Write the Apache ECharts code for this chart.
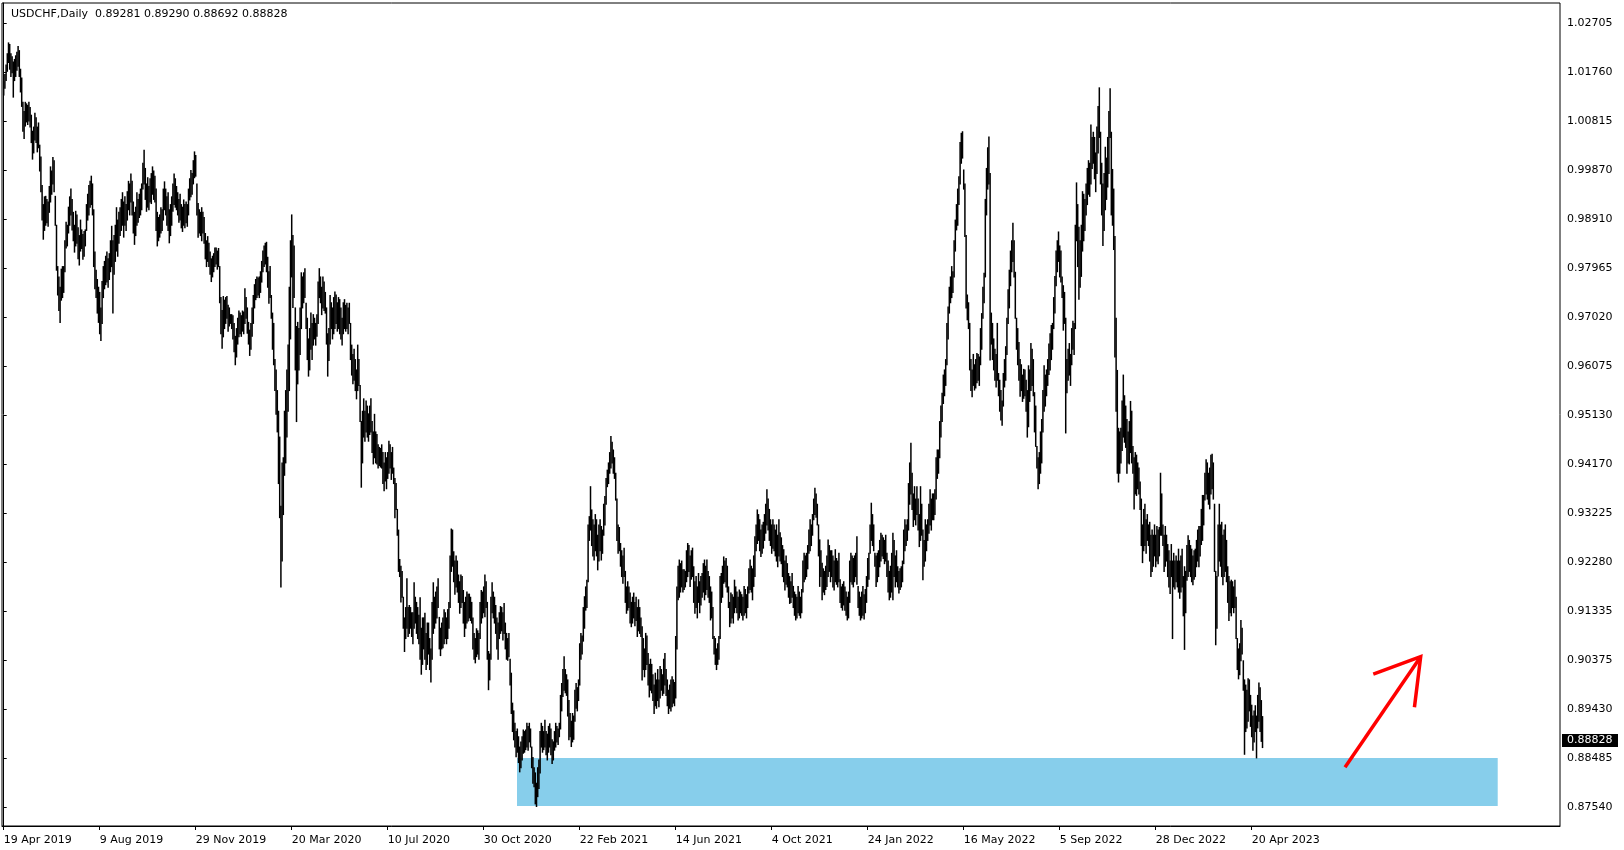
<!DOCTYPE html>
<html><head><meta charset="utf-8">
<script src="https://cdn.jsdelivr.net/npm/echarts@6/dist/echarts.min.js"></script>
<style>html,body{margin:0;padding:0;background:#fff}#c{width:1624px;height:850px}</style>
</head><body><div id="c"></div>
<script>
const symbolTitle = 'USDCHF,Daily';
const lastBar = [0.89281, 0.89290, 0.88692, 0.88828]; // O H L C
const xTickIndex = [0, 80, 160, 240, 320, 400, 480, 560, 640, 720, 800, 880, 960, 1040];
const xTickLabels = ['19 Apr 2019','9 Aug 2019','29 Nov 2019','20 Mar 2020','10 Jul 2020','30 Oct 2020','22 Feb 2021','14 Jun 2021','4 Oct 2021','24 Jan 2022','16 May 2022','5 Sep 2022','28 Dec 2022','20 Apr 2023'];
const yTicks = [1.02705,1.01760,1.00815,0.99870,0.98910,0.97965,0.97020,0.96075,0.95130,0.94170,0.93225,0.92280,0.91335,0.90375,0.89430,0.88485,0.87540];
const xMin = -1.42, xMax = 1296.9, yMin = 0.87172, yMax = 1.03102;
// support zone: bar index start/end, price high/low
const zoneStart = 427.75, zoneEnd = 1245, zoneHigh = 0.8849, zoneLow = 0.8756;
// arrow drawn in data space [bar index, price]
const arrowShaft = [[1117.75, 0.8831], [1180.8, 0.9045]];
const arrowHead = [[1141.3, 0.9011], [1180.8, 0.9045], [1175.6, 0.8947]];

const highs = [
1.0158,1.0172,1.0190,1.0212,1.0233, 1.0230,1.0212,1.0206,1.0196,1.0201,
1.0208,1.0215,1.0226,1.0218,1.0182, 1.0165,1.0118,1.0100,1.0118,1.0115,
1.0112,1.0118,1.0108,1.0093,1.0062, 1.0070,1.0097,1.0088,1.0070,1.0078,
1.0035,1.0012,0.9957,0.9920,0.9935, 0.9936,0.9930,0.9925,0.9955,0.9993,
0.9985,1.0011,1.0005,0.9936,0.9880, 0.9800,0.9780,0.9760,0.9795,0.9800,
0.9800,0.9850,0.9886,0.9880,0.9915, 0.9935,0.9950,0.9930,0.9905,0.9880,
0.9907,0.9900,0.9875,0.9860,0.9890, 0.9871,0.9862,0.9868,0.9871,0.9920,
0.9940,0.9957,0.9965,0.9975,0.9960, 0.9910,0.9828,0.9793,0.9775,0.9760,
0.9750,0.9720,0.9771,0.9800,0.9810, 0.9820,0.9828,0.9815,0.9825,0.9850,
0.9878,0.9850,0.9860,0.9880,0.9914, 0.9890,0.9905,0.9914,0.9930,0.9943,
0.9925,0.9935,0.9920,0.9945,0.9965, 0.9960,0.9979,0.9965,0.9925,0.9905,
0.9915,0.9943,0.9930,0.9940,0.9950, 0.9960,1.0000,1.0025,0.9990,0.9960,
0.9972,0.9955,0.9970,0.9980,0.9993, 0.9985,0.9975,0.9950,0.9905,0.9895,
0.9900,0.9914,0.9910,0.9950,0.9964, 0.9950,0.9935,0.9943,0.9910,0.9920,
0.9935,0.9960,0.9979,0.9970,0.9955, 0.9943,0.9930,0.9940,0.9920,0.9915,
0.9929,0.9920,0.9925,0.9920,0.9950, 0.9970,0.9986,0.9980,1.0005,1.0022,
1.0015,0.9960,0.9922,0.9910,0.9905, 0.9914,0.9905,0.9895,0.9864,0.9850,
0.9858,0.9845,0.9828,0.9815,0.9820, 0.9825,0.9836,0.9836,0.9830,0.9835,
0.9800,0.9740,0.9715,0.9742,0.9735, 0.9740,0.9742,0.9725,0.9720,0.9707,
0.9707,0.9705,0.9690,0.9665,0.9680, 0.9700,0.9714,0.9710,0.9705,0.9714,
0.9712,0.9757,0.9740,0.9720,0.9692, 0.9677,0.9690,0.9720,0.9744,0.9765,
0.9775,0.9780,0.9778,0.9780,0.9790, 0.9810,0.9830,0.9840,0.9845,0.9847,
0.9818,0.9790,0.9800,0.9744,0.9710, 0.9690,0.9620,0.9600,0.9560,0.9520,
0.9470,0.9336,0.9420,0.9430,0.9520, 0.9560,0.9600,0.9648,0.9760,0.9850,
0.9900,0.9860,0.9840,0.9720,0.9684, 0.9692,0.9680,0.9720,0.9788,0.9780,
0.9788,0.9796,0.9729,0.9700,0.9660, 0.9680,0.9710,0.9690,0.9707,0.9700,
0.9690,0.9707,0.9770,0.9796,0.9780, 0.9760,0.9780,0.9770,0.9750,0.9720,
0.9670,0.9680,0.9744,0.9730,0.9720, 0.9740,0.9751,0.9745,0.9730,0.9740,
0.9736,0.9720,0.9700,0.9730,0.9736, 0.9725,0.9729,0.9720,0.9729,0.9690,
0.9648,0.9630,0.9640,0.9620,0.9600, 0.9648,0.9620,0.9570,0.9500,0.9520,
0.9544,0.9520,0.9540,0.9530,0.9515, 0.9530,0.9544,0.9500,0.9480,0.9514,
0.9480,0.9475,0.9455,0.9450,0.9448, 0.9455,0.9440,0.9420,0.9440,0.9430,
0.9440,0.9462,0.9455,0.9440,0.9450, 0.9410,0.9390,0.9380,0.9330,0.9290,
0.9233,0.9220,0.9210,0.9160,0.9120, 0.9140,0.9196,0.9140,0.9144,0.9140,
0.9130,0.9130,0.9188,0.9160,0.9150, 0.9140,0.9125,0.9159,0.9100,0.9120,
0.9120,0.9129,0.9090,0.9110,0.9110, 0.9080,0.9060,0.9150,0.9188,0.9160,
0.9170,0.9180,0.9196,0.9121,0.9100, 0.9110,0.9120,0.9136,0.9130,0.9120,
0.9136,0.9150,0.9240,0.9292,0.9290, 0.9248,0.9230,0.9240,0.9230,0.9203,
0.9190,0.9203,0.9200,0.9173,0.9150, 0.9160,0.9170,0.9166,0.9166,0.9160,
0.9150,0.9120,0.9090,0.9080,0.9099, 0.9095,0.9090,0.9150,0.9173,0.9170,
0.9180,0.9203,0.9190,0.9150,0.9055, 0.9050,0.9160,0.9188,0.9170,0.9160,
0.9144,0.9120,0.9110,0.9130,0.9142, 0.9140,0.9130,0.9148,0.9110,0.9090,
0.9080,0.9090,0.9040,0.9013,0.8955, 0.8940,0.8916,0.8900,0.8905,0.8890,
0.8870,0.8880,0.8890,0.8903,0.8900, 0.8903,0.8916,0.8910,0.8916,0.8905,
0.8870,0.8850,0.8830,0.8820,0.8800, 0.8830,0.8845,0.8900,0.8916,0.8910,
0.8900,0.8922,0.8900,0.8895,0.8910, 0.8915,0.8905,0.8884,0.8880,0.8900,
0.8916,0.8910,0.8905,0.8916,0.8970, 0.8993,0.9020,0.9045,0.9020,0.9010,
0.9000,0.8960,0.8935,0.8920,0.8935, 0.8930,0.8980,0.8993,0.8985,0.9000,
0.9070,0.9090,0.9085,0.9140,0.9161, 0.9180,0.9193,0.9300,0.9316,0.9374,
0.9329,0.9310,0.9300,0.9320,0.9310, 0.9280,0.9300,0.9310,0.9297,0.9290,
0.9340,0.9355,0.9390,0.9406,0.9420, 0.9440,0.9471,0.9460,0.9445,0.9430,
0.9400,0.9350,0.9300,0.9295,0.9264, 0.9250,0.9240,0.9255,0.9210,0.9180,
0.9190,0.9180,0.9168,0.9150,0.9160, 0.9168,0.9150,0.9160,0.9140,0.9155,
0.9140,0.9120,0.9103,0.9080,0.9060, 0.9090,0.9085,0.9051,0.9030,0.9040,
0.9030,0.9010,0.8990,0.9013,0.9000, 0.9020,0.9000,0.9026,0.9020,0.9010,
0.9040,0.9051,0.9020,0.9000,0.8980, 0.8990,0.9000,0.9006,0.9000,0.8995,
0.9084,0.9180,0.9220,0.9232,0.9225, 0.9230,0.9213,0.9213,0.9210,0.9250,
0.9264,0.9260,0.9240,0.9250,0.9255, 0.9219,0.9190,0.9200,0.9180,0.9206,
0.9190,0.9200,0.9206,0.9225,0.9232, 0.9220,0.9232,0.9210,0.9200,0.9180,
0.9170,0.9140,0.9084,0.9080,0.9060, 0.9070,0.9084,0.9200,0.9206,0.9220,
0.9238,0.9230,0.9235,0.9220,0.9180, 0.9150,0.9168,0.9165,0.9160,0.9193,
0.9180,0.9170,0.9160,0.9174,0.9170, 0.9165,0.9160,0.9181,0.9175,0.9165,
0.9180,0.9215,0.9232,0.9220,0.9215, 0.9240,0.9277,0.9300,0.9329,0.9320,
0.9310,0.9290,0.9300,0.9305,0.9320, 0.9340,0.9368,0.9350,0.9330,0.9310,
0.9300,0.9310,0.9300,0.9290,0.9300, 0.9280,0.9310,0.9285,0.9275,0.9260,
0.9252,0.9230,0.9240,0.9225,0.9206, 0.9200,0.9190,0.9206,0.9181,0.9170,
0.9165,0.9160,0.9181,0.9170,0.9160, 0.9175,0.9230,0.9245,0.9240,0.9245,
0.9260,0.9290,0.9310,0.9300,0.9320, 0.9350,0.9371,0.9360,0.9340,0.9300,
0.9271,0.9250,0.9226,0.9215,0.9210, 0.9220,0.9240,0.9271,0.9260,0.9250,
0.9250,0.9240,0.9230,0.9252,0.9235, 0.9230,0.9245,0.9194,0.9180,0.9185,
0.9190,0.9180,0.9170,0.9160,0.9170, 0.9230,0.9245,0.9240,0.9235,0.9240,
0.9245,0.9277,0.9181,0.9170,0.9160, 0.9170,0.9181,0.9165,0.9175,0.9200,
0.9235,0.9245,0.9300,0.9342,0.9320, 0.9300,0.9245,0.9240,0.9245,0.9250,
0.9270,0.9284,0.9280,0.9275,0.9270, 0.9280,0.9245,0.9230,0.9210,0.9220,
0.9245,0.9284,0.9270,0.9240,0.9250, 0.9219,0.9210,0.9215,0.9219,0.9230,
0.9290,0.9310,0.9300,0.9310,0.9380, 0.9420,0.9458,0.9400,0.9360,0.9374,
0.9350,0.9374,0.9350,0.9320,0.9374, 0.9340,0.9290,0.9270,0.9310,0.9300,
0.9310,0.9340,0.9368,0.9350,0.9360, 0.9360,0.9368,0.9430,0.9445,0.9445,
0.9500,0.9530,0.9555,0.9590,0.9600, 0.9620,0.9690,0.9722,0.9760,0.9780,
0.9800,0.9790,0.9850,0.9890,0.9920, 0.9950,0.9974,1.0040,1.0058,1.0061,
0.9987,0.9960,0.9860,0.9745,0.9730, 0.9690,0.9620,0.9600,0.9630,0.9610,
0.9620,0.9632,0.9630,0.9625,0.9680, 0.9709,0.9760,0.9787,0.9930,0.9990,
1.0030,1.0051,0.9980,0.9710,0.9690, 0.9660,0.9640,0.9630,0.9690,0.9593,
0.9580,0.9560,0.9540,0.9593,0.9620, 0.9645,0.9700,0.9755,0.9793,0.9830,
0.9850,0.9884,0.9850,0.9789,0.9700, 0.9680,0.9653,0.9620,0.9610,0.9590,
0.9601,0.9600,0.9580,0.9560,0.9608, 0.9600,0.9651,0.9640,0.9620,0.9556,
0.9530,0.9452,0.9430,0.9440,0.9480, 0.9504,0.9560,0.9608,0.9590,0.9600,
0.9620,0.9650,0.9670,0.9686,0.9690, 0.9740,0.9781,0.9830,0.9850,0.9867,
0.9840,0.9830,0.9780,0.9763,0.9750, 0.9700,0.9620,0.9640,0.9651,0.9630,
0.9680,0.9694,0.9690,0.9880,0.9962, 0.9920,0.9876,0.9850,0.9880,0.9945,
0.9940,0.9930,0.9960,0.9990,1.0005, 1.0000,1.0074,1.0050,1.0060,1.0050,
1.0020,1.0070,1.0110,1.0146,1.0060, 1.0000,0.9960,0.9980,1.0031,1.0010,
1.0050,1.0100,1.0144,1.0060,0.9988, 0.9950,0.9858,0.9700,0.9599,0.9487,
0.9480,0.9487,0.9540,0.9590,0.9550, 0.9530,0.9504,0.9480,0.9500,0.9539,
0.9520,0.9452,0.9430,0.9440,0.9435, 0.9420,0.9410,0.9383,0.9350,0.9300,
0.9330,0.9340,0.9310,0.9320,0.9300, 0.9305,0.9280,0.9290,0.9280,0.9300,
0.9280,0.9297,0.9290,0.9295,0.9400, 0.9360,0.9300,0.9280,0.9297,0.9280,
0.9262,0.9250,0.9230,0.9262,0.9230, 0.9245,0.9230,0.9240,0.9230,0.9253,
0.9230,0.9240,0.9253,0.9200,0.9219, 0.9210,0.9260,0.9279,0.9270,0.9260,
0.9253,0.9240,0.9250,0.9253,0.9270, 0.9290,0.9297,0.9297,0.9330,0.9357,
0.9357,0.9400,0.9426,0.9420,0.9400, 0.9410,0.9435,0.9437,0.9420,0.9340,
0.9210,0.9200,0.9300,0.9340,0.9300, 0.9305,0.9280,0.9290,0.9300,0.9270,
0.9219,0.9200,0.9190,0.9193,0.9190, 0.9180,0.9193,0.9160,0.9080,0.9060,
0.9070,0.9115,0.9100,0.9037,0.9000, 0.8990,0.8980,0.9002,0.9000,0.8970,
0.8951,0.8930,0.8940,0.8950,0.8930, 0.8970,0.8994,0.8985,0.8960,0.8929
];
const lows = [
1.0132,1.0145,1.0160,1.0178,1.0195, 1.0182,1.0168,1.0175,1.0128,1.0160,
1.0168,1.0180,1.0188,1.0168,1.0138, 1.0110,1.0062,1.0048,1.0072,1.0080,
1.0075,1.0082,1.0070,1.0040,1.0008, 1.0020,1.0045,1.0040,1.0022,1.0030,
0.9985,0.9945,0.9890,0.9853,0.9870, 0.9880,0.9885,0.9878,0.9905,0.9925,
0.9940,0.9960,0.9945,0.9880,0.9793, 0.9745,0.9715,0.9692,0.9735,0.9740,
0.9750,0.9790,0.9836,0.9840,0.9865, 0.9880,0.9900,0.9871,0.9850,0.9828,
0.9840,0.9845,0.9815,0.9803,0.9830, 0.9835,0.9814,0.9820,0.9840,0.9870,
0.9890,0.9900,0.9915,0.9920,0.9900, 0.9800,0.9757,0.9740,0.9710,0.9692,
0.9670,0.9657,0.9690,0.9740,0.9757, 0.9765,0.9770,0.9760,0.9775,0.9790,
0.9800,0.9710,0.9785,0.9810,0.9830, 0.9820,0.9845,0.9860,0.9870,0.9880,
0.9857,0.9880,0.9870,0.9890,0.9910, 0.9900,0.9925,0.9900,0.9865,0.9843,
0.9860,0.9880,0.9886,0.9895,0.9900, 0.9910,0.9950,0.9960,0.9930,0.9907,
0.9915,0.9910,0.9925,0.9922,0.9940, 0.9930,0.9925,0.9870,0.9840,0.9850,
0.9857,0.9865,0.9870,0.9890,0.9910, 0.9900,0.9880,0.9870,0.9846,0.9860,
0.9880,0.9907,0.9920,0.9915,0.9910, 0.9900,0.9886,0.9890,0.9875,0.9868,
0.9880,0.9875,0.9885,0.9878,0.9900, 0.9929,0.9935,0.9940,0.9960,0.9972,
0.9975,0.9900,0.9857,0.9865,0.9860, 0.9850,0.9865,0.9845,0.9815,0.9800,
0.9810,0.9800,0.9785,0.9771,0.9780, 0.9790,0.9800,0.9805,0.9795,0.9800,
0.9730,0.9670,0.9642,0.9664,0.9680, 0.9690,0.9700,0.9675,0.9685,0.9690,
0.9680,0.9660,0.9635,0.9610,0.9625, 0.9650,0.9664,0.9670,0.9665,0.9675,
0.9670,0.9690,0.9700,0.9671,0.9650, 0.9628,0.9640,0.9665,0.9690,0.9720,
0.9736,0.9740,0.9745,0.9740,0.9750, 0.9770,0.9790,0.9800,0.9805,0.9790,
0.9760,0.9729,0.9740,0.9700,0.9640, 0.9610,0.9560,0.9514,0.9480,0.9380,
0.9314,0.9180,0.9230,0.9320,0.9396, 0.9420,0.9470,0.9520,0.9560,0.9660,
0.9780,0.9721,0.9740,0.9600,0.9500, 0.9573,0.9600,0.9630,0.9680,0.9720,
0.9730,0.9740,0.9680,0.9620,0.9588, 0.9600,0.9640,0.9620,0.9648,0.9660,
0.9648,0.9665,0.9690,0.9740,0.9730, 0.9707,0.9720,0.9715,0.9710,0.9650,
0.9588,0.9618,0.9650,0.9680,0.9660, 0.9670,0.9680,0.9690,0.9675,0.9680,
0.9670,0.9660,0.9648,0.9670,0.9680, 0.9675,0.9680,0.9670,0.9690,0.9620,
0.9590,0.9573,0.9580,0.9560,0.9544, 0.9560,0.9570,0.9500,0.9373,0.9420,
0.9470,0.9462,0.9480,0.9470,0.9462, 0.9475,0.9480,0.9440,0.9418,0.9430,
0.9420,0.9418,0.9410,0.9415,0.9412, 0.9410,0.9380,0.9366,0.9385,0.9370,
0.9390,0.9400,0.9410,0.9388,0.9400, 0.9380,0.9314,0.9330,0.9280,0.9210,
0.9200,0.9151,0.9160,0.9100,0.9055, 0.9080,0.9100,0.9084,0.9090,0.9100,
0.9084,0.9070,0.9100,0.9110,0.9090, 0.9080,0.9070,0.9040,0.9011,0.9030,
0.9060,0.9040,0.9020,0.9030,0.9050, 0.9020,0.8996,0.9040,0.9090,0.9100,
0.9110,0.9120,0.9140,0.9060,0.9047, 0.9060,0.9062,0.9070,0.9080,0.9070,
0.9080,0.9100,0.9140,0.9210,0.9220, 0.9190,0.9166,0.9180,0.9170,0.9150,
0.9129,0.9140,0.9150,0.9110,0.9084, 0.9100,0.9110,0.9114,0.9120,0.9115,
0.9110,0.9060,0.9040,0.9033,0.9045, 0.9050,0.9040,0.9080,0.9110,0.9120,
0.9130,0.9122,0.9140,0.9040,0.8981, 0.9000,0.9040,0.9130,0.9120,0.9110,
0.9090,0.9060,0.9040,0.9080,0.9090, 0.9095,0.9077,0.9090,0.9060,0.9040,
0.9038,0.9045,0.8990,0.8935,0.8900, 0.8884,0.8870,0.8851,0.8860,0.8840,
0.8822,0.8830,0.8845,0.8858,0.8860, 0.8865,0.8870,0.8864,0.8880,0.8870,
0.8830,0.8800,0.8793,0.8760,0.8755, 0.8774,0.8790,0.8820,0.8870,0.8860,
0.8865,0.8870,0.8855,0.8845,0.8860, 0.8870,0.8855,0.8838,0.8845,0.8864,
0.8870,0.8880,0.8875,0.8890,0.8905, 0.8940,0.8968,0.8980,0.8975,0.8970,
0.8930,0.8884,0.8890,0.8871,0.8880, 0.8885,0.8920,0.8945,0.8940,0.8960,
0.8990,0.9040,0.9050,0.9075,0.9100, 0.9135,0.9140,0.9190,0.9270,0.9290,
0.9260,0.9240,0.9232,0.9250,0.9240, 0.9213,0.9230,0.9250,0.9232,0.9245,
0.9280,0.9300,0.9340,0.9374,0.9380, 0.9400,0.9410,0.9420,0.9400,0.9390,
0.9348,0.9270,0.9245,0.9250,0.9220, 0.9200,0.9187,0.9200,0.9150,0.9129,
0.9135,0.9140,0.9110,0.9103,0.9110, 0.9120,0.9105,0.9115,0.9084,0.9095,
0.9090,0.9084,0.9000,0.9020,0.9006, 0.9020,0.9030,0.8990,0.8967,0.8980,
0.8975,0.8960,0.8935,0.8950,0.8945, 0.8960,0.8948,0.8965,0.8980,0.8970,
0.8974,0.8990,0.8970,0.8950,0.8935, 0.8945,0.8940,0.8948,0.8955,0.8950,
0.8965,0.9060,0.9155,0.9160,0.9170, 0.9180,0.9170,0.9175,0.9180,0.9190,
0.9200,0.9210,0.9181,0.9195,0.9200, 0.9150,0.9129,0.9140,0.9120,0.9150,
0.9130,0.9145,0.9160,0.9170,0.9155, 0.9165,0.9175,0.9160,0.9150,0.9116,
0.9120,0.9080,0.9050,0.9030,0.9020, 0.9030,0.9040,0.9080,0.9150,0.9160,
0.9187,0.9190,0.9180,0.9170,0.9140, 0.9103,0.9110,0.9120,0.9110,0.9130,
0.9140,0.9130,0.9116,0.9120,0.9130, 0.9125,0.9116,0.9125,0.9130,0.9120,
0.9140,0.9168,0.9175,0.9170,0.9155, 0.9181,0.9200,0.9250,0.9264,0.9270,
0.9250,0.9239,0.9245,0.9255,0.9270, 0.9284,0.9300,0.9290,0.9270,0.9260,
0.9245,0.9255,0.9250,0.9240,0.9230, 0.9219,0.9240,0.9230,0.9225,0.9200,
0.9190,0.9174,0.9185,0.9180,0.9160, 0.9148,0.9150,0.9160,0.9140,0.9125,
0.9116,0.9120,0.9130,0.9125,0.9120, 0.9130,0.9170,0.9190,0.9195,0.9200,
0.9215,0.9245,0.9250,0.9260,0.9280, 0.9310,0.9320,0.9315,0.9300,0.9240,
0.9181,0.9200,0.9155,0.9170,0.9165, 0.9175,0.9181,0.9200,0.9210,0.9190,
0.9200,0.9180,0.9174,0.9190,0.9185, 0.9180,0.9190,0.9150,0.9140,0.9135,
0.9145,0.9135,0.9125,0.9116,0.9120, 0.9150,0.9190,0.9185,0.9180,0.9190,
0.9200,0.9185,0.9140,0.9125,0.9116, 0.9120,0.9125,0.9118,0.9130,0.9150,
0.9181,0.9195,0.9245,0.9270,0.9260, 0.9250,0.9220,0.9181,0.9190,0.9200,
0.9219,0.9230,0.9240,0.9235,0.9225, 0.9230,0.9200,0.9170,0.9155,0.9160,
0.9170,0.9155,0.9200,0.9180,0.9190, 0.9180,0.9168,0.9175,0.9180,0.9190,
0.9225,0.9250,0.9260,0.9270,0.9290, 0.9340,0.9360,0.9330,0.9297,0.9310,
0.9300,0.9320,0.9290,0.9258,0.9270, 0.9280,0.9194,0.9220,0.9230,0.9250,
0.9270,0.9284,0.9300,0.9290,0.9310, 0.9310,0.9320,0.9350,0.9390,0.9400,
0.9430,0.9470,0.9500,0.9535,0.9550, 0.9570,0.9610,0.9660,0.9710,0.9730,
0.9740,0.9750,0.9780,0.9830,0.9871, 0.9880,0.9920,0.9960,1.0000,1.0010,
0.9950,0.9858,0.9720,0.9697,0.9680, 0.9600,0.9560,0.9548,0.9570,0.9561,
0.9565,0.9575,0.9580,0.9570,0.9610, 0.9640,0.9700,0.9730,0.9780,0.9900,
0.9950,0.9960,0.9619,0.9650,0.9620, 0.9600,0.9580,0.9567,0.9580,0.9550,
0.9520,0.9503,0.9493,0.9530,0.9567, 0.9580,0.9630,0.9690,0.9720,0.9763,
0.9790,0.9810,0.9780,0.9700,0.9640, 0.9610,0.9580,0.9549,0.9560,0.9539,
0.9545,0.9550,0.9520,0.9470,0.9490, 0.9539,0.9560,0.9570,0.9550,0.9480,
0.9452,0.9410,0.9370,0.9380,0.9400, 0.9420,0.9480,0.9520,0.9530,0.9550,
0.9570,0.9591,0.9600,0.9620,0.9640, 0.9680,0.9710,0.9763,0.9790,0.9810,
0.9780,0.9770,0.9740,0.9677,0.9690, 0.9478,0.9556,0.9580,0.9590,0.9570,
0.9610,0.9640,0.9630,0.9680,0.9850, 0.9800,0.9737,0.9760,0.9781,0.9830,
0.9850,0.9870,0.9900,0.9920,0.9940, 0.9936,0.9960,0.9990,1.0000,0.9970,
0.9945,0.9980,1.0020,1.0050,0.9960, 0.9900,0.9841,0.9870,0.9910,0.9930,
0.9954,0.9980,1.0050,0.9900,0.9880, 0.9833,0.9625,0.9520,0.9400,0.9383,
0.9400,0.9420,0.9444,0.9470,0.9460, 0.9450,0.9400,0.9420,0.9418,0.9440,
0.9420,0.9400,0.9331,0.9360,0.9357, 0.9370,0.9360,0.9330,0.9260,0.9227,
0.9250,0.9260,0.9245,0.9270,0.9260, 0.9230,0.9200,0.9210,0.9220,0.9240,
0.9219,0.9230,0.9225,0.9240,0.9280, 0.9280,0.9260,0.9210,0.9220,0.9230,
0.9200,0.9180,0.9167,0.9200,0.9080, 0.9180,0.9176,0.9190,0.9180,0.9170,
0.9158,0.9170,0.9180,0.9124,0.9059, 0.9130,0.9193,0.9200,0.9210,0.9200,
0.9190,0.9184,0.9195,0.9200,0.9219, 0.9230,0.9219,0.9240,0.9262,0.9270,
0.9300,0.9348,0.9360,0.9350,0.9340, 0.9331,0.9360,0.9370,0.9350,0.9210,
0.9068,0.9100,0.9201,0.9230,0.9220, 0.9200,0.9184,0.9200,0.9210,0.9190,
0.9150,0.9115,0.9130,0.9124,0.9140, 0.9130,0.9140,0.9080,0.9020,0.9002,
0.9010,0.9037,0.9050,0.8980,0.8856, 0.8900,0.8907,0.8920,0.8940,0.8910,
0.8890,0.8864,0.8880,0.8900,0.8849, 0.8907,0.8920,0.8900,0.8881,0.8869
];

const FONT = 'DejaVu Sans';
const chart = echarts.init(document.getElementById('c'), null, {renderer: 'canvas'});
const barData = highs.map((h, i) => [i, lows[i], h]);
const headerText = symbolTitle + '  ' + lastBar.map(v => v.toFixed(5)).join(' ');

chart.setOption({
  animation: false,
  backgroundColor: '#ffffff',
  title: {
    text: headerText, left: 6, top: 4,
    textStyle: {fontFamily: FONT, fontSize: 11, fontWeight: 'normal', color: '#000'}
  },
  grid: {left: 2, right: 64, top: 3, bottom: 24, show: true, borderColor: '#000', borderWidth: 1, containLabel: false},
  xAxis: {
    type: 'value', min: xMin, max: xMax,
    axisLine: {show: true, lineStyle: {color: '#000', width: 1}},
    splitLine: {show: false},
    axisTick: {show: true, length: 4, inside: false, customValues: xTickIndex, lineStyle: {color: '#000'}},
    axisLabel: {
      customValues: xTickIndex, align: 'left', margin: 9, color: '#000',
      fontFamily: FONT, fontSize: 11, hideOverlap: false,
      formatter: v => xTickLabels[xTickIndex.indexOf(Math.round(v))] || ''
    }
  },
  yAxis: {
    type: 'value', position: 'right', min: yMin, max: yMax, scale: true,
    axisLine: {show: true, lineStyle: {color: '#000', width: 1}},
    splitLine: {show: false},
    axisTick: {show: true, length: 3, inside: false, customValues: yTicks, lineStyle: {color: '#000'}},
    axisLabel: {
      customValues: yTicks, margin: 7, color: '#000', fontFamily: FONT, fontSize: 11,
      hideOverlap: false, formatter: v => v.toFixed(5)
    }
  },
  series: [
    {
      type: 'custom', name: 'zone', z: 1, silent: true, clip: true,
      data: [[zoneStart, zoneHigh, zoneEnd, zoneLow]],
      renderItem: (params, api) => {
        const p1 = api.coord([api.value(0), api.value(1)]);
        const p2 = api.coord([api.value(2), api.value(3)]);
        return {type: 'rect', shape: {x: p1[0], y: p1[1], width: p2[0] - p1[0], height: p2[1] - p1[1]},
          style: {fill: '#87CEEB'}};
      }
    },
    {
      type: 'custom', name: 'USDCHF', z: 2, silent: true, clip: true,
      data: barData,
      encode: {x: 0, y: [1, 2]},
      renderItem: (params, api) => {
        const i = api.value(0);
        const a = api.coord([i, api.value(1)]);
        const b = api.coord([i, api.value(2)]);
        return {type: 'line', shape: {x1: a[0], y1: a[1] + 0.5, x2: a[0], y2: b[1] - 0.5},
          style: {stroke: '#000', lineWidth: 1.5}};
      }
    },
    {
      type: 'custom', name: 'arrow', z: 3, silent: true, clip: false,
      data: [[arrowShaft[1][0], arrowShaft[1][1]]],
      renderItem: (params, api) => {
        const shaft = arrowShaft.map(p => api.coord(p));
        const head = arrowHead.map(p => api.coord(p));
        return {type: 'group', children: [
          {type: 'polyline', shape: {points: shaft}, style: {stroke: '#FF0000', lineWidth: 3.5, fill: null}},
          {type: 'polyline', shape: {points: head}, style: {stroke: '#FF0000', lineWidth: 3.5, fill: null, lineJoin: 'miter'}}
        ]};
      }
    },
    {
      // last-price tag on the price scale
      type: 'custom', name: 'lastPrice', z: 5, silent: true, clip: false,
      data: [[xMax, lastBar[3]]],
      renderItem: (params, api) => {
        const p = api.coord([api.value(0), api.value(1)]);
        const x0 = p[0] + 2, h = 13, w = 56;
        return {type: 'group', children: [
          {type: 'rect', shape: {x: x0, y: Math.round(p[1] - h / 2), width: w, height: h}, style: {fill: '#000'}},
          {type: 'text', x: x0 + 5, y: Math.round(p[1]) + 0.5,
            style: {text: lastBar[3].toFixed(5), fill: '#fff', font: '11px "DejaVu Sans"', verticalAlign: 'middle', align: 'left'}}
        ]};
      }
    }
  ]
});
</script>
</body></html>
